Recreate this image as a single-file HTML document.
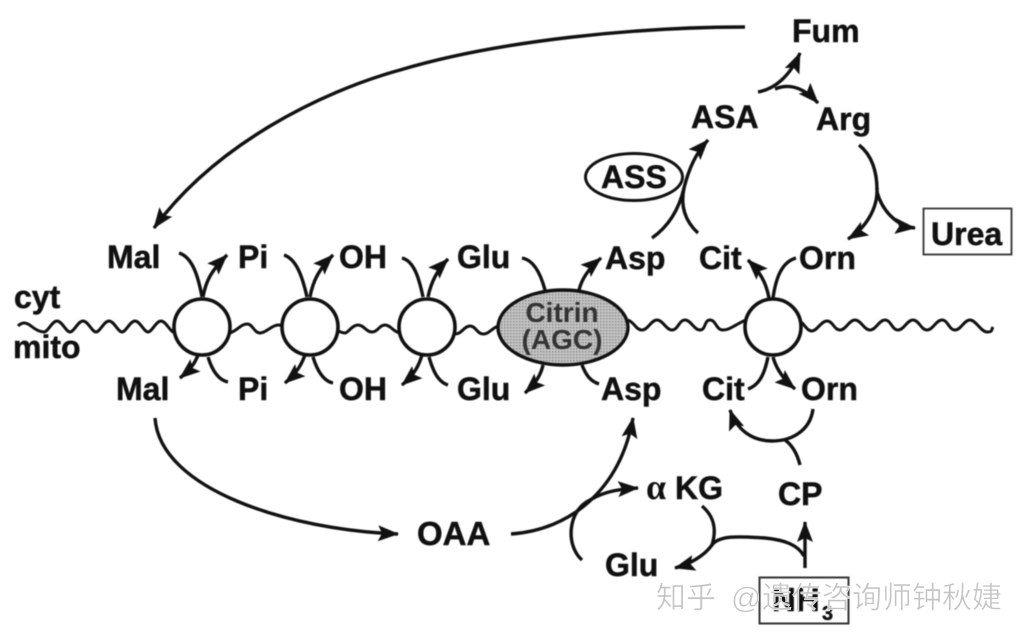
<!DOCTYPE html>
<html><head><meta charset="utf-8">
<style>
html,body{margin:0;padding:0;background:#fff;width:1026px;height:641px;overflow:hidden}
svg{display:block}
text{font-family:"Liberation Sans","Noto Sans CJK SC",sans-serif}
.t{font-weight:700;font-size:32px;fill:#111;stroke:#111;stroke-width:.5}
.l{fill:none;stroke:#111;stroke-width:3.4;stroke-linecap:butt}
.a{marker-end:url(#h)}
.w{fill:none;stroke:#111;stroke-width:3}
.c{fill:#fff;stroke:#111;stroke-width:3.6}
.d{filter:blur(.45px)}
</style></head><body>
<svg width="1026" height="641" viewBox="0 0 1026 641" xmlns="http://www.w3.org/2000/svg">
<defs>
<marker id="h" markerUnits="userSpaceOnUse" markerWidth="24" markerHeight="20" refX="20" refY="9" orient="auto">
<path d="M0 1L21 9L0 17L4 9Z" fill="#111"/>
</marker>
<pattern id="st" width="3" height="3" patternUnits="userSpaceOnUse">
<rect width="3" height="3" fill="#c6c6c6"/><rect width="1.500" height="1.500" fill="#888"/>
</pattern>
</defs>
<g class="d">
<!-- membrane -->
<path class="w" d="M18 326C22 322 26 322 31 326S40 332 44 332S52 321 57 321S66 332 70 332S78 321 83 321S92 332 96 332S104 321 109 321S118 332 122 332S130 321 135 321S144 332 148 332S156 321 161 321S170 332 175 333"/>
<path class="w" d="M230 333C238 330 241 324 247 324S254 333 260 333S272 325 278 325S281 326 284 328"/>
<path class="w" d="M338 331C341 332 342 333 345 333S352 325 358 325S366 332 372 332S379 325 385 325S393 332 400 333"/>
<path class="w" d="M455 334C462 334 464 326 470 326S477 334 483 334S491 329 498 326"/>
<path class="w" d="M628 320C634 322 636 330 642 330S651 320 657 320S666 330 672 330S679 320 685 320S694 330 700 330S704 320 710 320S716 330 723 330S736 324 746 320"/>
<path class="w" d="M801 322C805 325 807 331 812 331S821 321 827 321S834 330 840 330S849 320 855 320S864 330 870 330S879 320 885 320S892 330 898 330S907 320 913 320S921 330 927 330S936 320 942 320S949 330 955 330S964 320 970 320S981 332 987 332S991 330 993 327"/>
<circle class="c" cx="202" cy="327" r="28"/>
<circle class="c" cx="310" cy="327" r="28"/>
<circle class="c" cx="427" cy="327" r="28"/>
<circle class="c" cx="773" cy="327" r="28"/>
<ellipse cx="563" cy="327.500" rx="65" ry="37.500" fill="url(#st)" stroke="#111" stroke-width="3.400"/>
<!-- carrier arrows -->
<path class="l" d="M179 253C192 257 198 275 202 297"/>
<path class="l a" d="M203 297C206 280 212 270 227 255"/>
<path class="l a" d="M198 355C195 363 191 369 180 378"/>
<path class="l" d="M208 357C212 370 218 380 228 382"/>
<path class="l" d="M284 255C296 259 302 275 307 297"/>
<path class="l a" d="M310 297C313 280 320 268 333 255"/>
<path class="l a" d="M305 355C302 363 298 372 285 383"/>
<path class="l" d="M313 357C317 370 323 381 333 383"/>
<path class="l" d="M402 258C414 261 419 278 423 297"/>
<path class="l a" d="M428 297C431 282 437 270 448 259"/>
<path class="l a" d="M422 355C419 365 415 374 402 385"/>
<path class="l" d="M429 357C433 371 438 382 448 385"/>
<path class="l" d="M522 258C534 260 541 275 545 290"/>
<path class="l a" d="M579 290C582 278 589 268 601 258"/>
<path class="l a" d="M543 365C541 374 537 382 525 393"/>
<path class="l" d="M582 365C586 375 590 381 599 384"/>
<path class="l a" d="M769 298C766 282 760 272 748 260"/>
<path class="l" d="M773 298C776 277 782 262 796 258"/>
<path class="l" d="M768 357C765 372 760 385 748 389"/>
<path class="l a" d="M773 357C776 368 783 379 795 389"/>
<!-- cycle -->
<path class="l a" d="M652 238C672 224 680 205 684 188C689 168 696 153 708 140"/>
<path class="l" d="M698 233C686 222 680 207 684 188"/>
<path class="l a" d="M758 92C775 89 790 76 800 53"/>
<path class="l a" d="M775 89C792 82 806 90 818 103"/>
<path class="l" d="M859 145C872 155 877 172 877 190"/>
<path class="l a" d="M877 188C878 208 866 228 848 239"/>
<path class="l a" d="M877 192C882 210 896 226 915 228"/>
<path class="l a" d="M745 27C640 27 500 40 400 70C320 92 215 145 154 228"/>
<!-- matrix -->
<path class="l a" d="M155 418C160 490 290 530 398 534"/>
<path class="l a" d="M511 534C570 530 620 490 633 418"/>
<path class="l a" d="M582 560C565 545 568 510 590 500C605 491 620 489 638 488"/>
<path class="l a" d="M702 506C716 518 716 532 712 545C704 556 690 564 675 568"/>
<path class="l" d="M712 545C720 534 745 537 765 538C785 540 798 545 804 556"/>
<path class="l a" d="M805 568L805 522"/>
<path class="l a" d="M813 409C810 432 790 441 772 441C752 441 737 430 730 410"/>
<path class="l" d="M800 465C797 453 792 445 785 440"/>
<!-- boxes and ellipses -->
<ellipse cx="634" cy="177" rx="48.500" ry="23.500" fill="none" stroke="#111" stroke-width="3"/>
<rect x="923.500" y="208.500" width="88" height="46" fill="#fff" stroke="#333" stroke-width="1.800"/>
<rect x="759.500" y="577.500" width="89" height="46" fill="#fff" stroke="#333" stroke-width="2"/>
<!-- labels -->
<text class="t" x="107" y="268">Mal</text>
<text class="t" x="238" y="268">Pi</text>
<text class="t" x="339" y="268">OH</text>
<text class="t" x="457" y="268">Glu</text>
<text class="t" x="605" y="269">Asp</text>
<text class="t" x="699" y="269">Cit</text>
<text class="t" x="799" y="269">Orn</text>
<text class="t" x="116" y="400">Mal</text>
<text class="t" x="238" y="400">Pi</text>
<text class="t" x="339" y="400">OH</text>
<text class="t" x="457" y="400">Glu</text>
<text class="t" x="601" y="400">Asp</text>
<text class="t" x="702" y="400">Cit</text>
<text class="t" x="801" y="400">Orn</text>
<text class="t" x="14" y="308">cyt</text>
<text class="t" x="13" y="358">mito</text>
<text class="t" x="792" y="42">Fum</text>
<text class="t" x="691" y="128">ASA</text>
<text class="t" x="816" y="130">Arg</text>
<text class="t" x="601" y="188">ASS</text>
<text class="t" x="931" y="245">Urea</text>
<text class="t" x="417" y="545" style="font-size:33px">OAA</text>
<text x="646" y="499" font-weight="700" font-size="36" fill="#111" style="font-family:'Liberation Serif',serif">α</text>
<text class="t" x="675" y="499">KG</text>
<text class="t" x="778" y="505">CP</text>
<text class="t" x="605" y="576">Glu</text>
<text class="t" x="772" y="611" style="font-size:33px">NH</text>
<text class="t" x="822" y="620" style="font-size:20px">3</text>
<text x="562" y="322" text-anchor="middle" font-weight="700" font-size="28" fill="#333">Citrin</text>
<text x="562" y="349" text-anchor="middle" font-weight="700" font-size="28" fill="#333">(AGC)</text>
</g>
<!-- watermark -->
<g font-size="30" fill="#c4c4c4" stroke="#fff" stroke-width=".5">
<text x="656" y="608">知乎</text>
<text x="731" y="608">@</text>
<text x="762" y="608">遗传咨询师钟秋婕</text>
</g>
</svg>
</body></html>
